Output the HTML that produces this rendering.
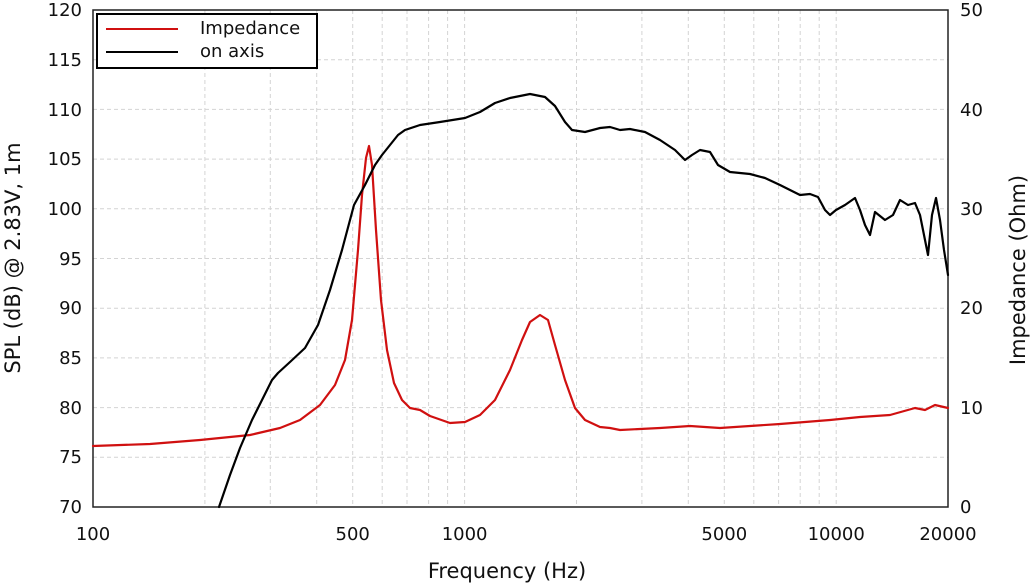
<!DOCTYPE html>
<html><head><style>body{margin:0;background:#fff}svg{display:block}text{font-family:"DejaVu Sans","Liberation Sans",sans-serif;fill:#111}</style></head><body>
<svg width="1032" height="584" viewBox="0 0 1032 584" xmlns="http://www.w3.org/2000/svg">
<g stroke="#d4d4d4" stroke-width="1" stroke-dasharray="4,3">
<line x1="93" x2="948" y1="59.7" y2="59.7"/><line x1="93" x2="948" y1="109.4" y2="109.4"/><line x1="93" x2="948" y1="159.1" y2="159.1"/><line x1="93" x2="948" y1="208.8" y2="208.8"/><line x1="93" x2="948" y1="258.5" y2="258.5"/><line x1="93" x2="948" y1="308.2" y2="308.2"/><line x1="93" x2="948" y1="357.9" y2="357.9"/><line x1="93" x2="948" y1="407.6" y2="407.6"/><line x1="93" x2="948" y1="457.3" y2="457.3"/>
<line x1="204.9" x2="204.9" y1="10" y2="507"/><line x1="270.3" x2="270.3" y1="10" y2="507"/><line x1="316.7" x2="316.7" y1="10" y2="507"/><line x1="352.7" x2="352.7" y1="10" y2="507"/><line x1="382.2" x2="382.2" y1="10" y2="507"/><line x1="407" x2="407" y1="10" y2="507"/><line x1="428.6" x2="428.6" y1="10" y2="507"/><line x1="447.6" x2="447.6" y1="10" y2="507"/><line x1="464.6" x2="464.6" y1="10" y2="507"/><line x1="576.5" x2="576.5" y1="10" y2="507"/><line x1="641.9" x2="641.9" y1="10" y2="507"/><line x1="688.3" x2="688.3" y1="10" y2="507"/><line x1="724.3" x2="724.3" y1="10" y2="507"/><line x1="753.8" x2="753.8" y1="10" y2="507"/><line x1="778.6" x2="778.6" y1="10" y2="507"/><line x1="800.2" x2="800.2" y1="10" y2="507"/><line x1="819.2" x2="819.2" y1="10" y2="507"/><line x1="836.2" x2="836.2" y1="10" y2="507"/>
</g>
<rect x="93" y="10" width="855" height="497" fill="none" stroke="#222" stroke-width="1.5"/>
<polyline fill="none" stroke="#d01010" stroke-width="2.2" stroke-linejoin="round" stroke-linecap="round" points="93,446 150,444 200,440 250,435 280,428 300,420 320,405 335,385 345,360 352,320 358,250 362,195 366,158 369,146 372,165 376,230 381,300 387,350 394,383 402,400 410,408 420,410 430,416 450,423 465,422 480,415 495,400 510,370 522,340 530,322 540,315 548,320 555,345 565,380 575,408 585,420 600,427 610,428 620,430 660,428 690,426 720,428 780,424 830,420 860,417 890,415 915,408 925,410 935,405 948,408"/>
<polyline fill="none" stroke="#000" stroke-width="2.2" stroke-linejoin="round" stroke-linecap="round" points="219,507 230,475 240,448 252,420 262,400 272,380 278,373 290,362 305,348 318,325 330,290 342,250 354,205 365,185 375,165 382,155 390,145 398,135 405,130 420,125 440,122 465,118 480,112 495,103 510,98 530,94 545,97 555,106 565,122 572,130 585,132 600,128 610,127 620,130 630,129 645,132 660,140 675,150 685,160 692,155 700,150 710,152 718,165 730,172 750,174 765,178 780,185 790,190 800,195 810,194 818,197 825,210 830,215 836,210 845,205 855,198 860,210 865,225 870,235 875,212 885,220 893,215 900,200 908,205 915,203 920,215 925,240 928,255 932,215 936,198 940,220 944,250 948,275"/>
<rect x="97" y="14" width="220" height="54" fill="#fff" stroke="#000" stroke-width="2"/>
<line x1="106" x2="178" y1="29" y2="29" stroke="#d01010" stroke-width="2"/>
<line x1="106" x2="178" y1="52" y2="52" stroke="#000" stroke-width="2"/>
<text x="200" y="34" font-size="18">Impedance</text><text x="200" y="57" font-size="18">on axis</text>
<g font-size="18" text-anchor="end">
<text x="82" y="16">120</text><text x="82" y="66">115</text><text x="82" y="116">110</text><text x="82" y="165">105</text><text x="82" y="215">100</text><text x="82" y="265">95</text><text x="82" y="314">90</text><text x="82" y="364">85</text><text x="82" y="414">80</text><text x="82" y="463">75</text><text x="82" y="513">70</text></g>
<g font-size="18">
<text x="960" y="16">50</text><text x="960" y="116">40</text><text x="960" y="215">30</text><text x="960" y="314">20</text><text x="960" y="414">10</text><text x="960" y="513">0</text></g>
<g font-size="18" text-anchor="middle">
<text x="93" y="540">100</text><text x="352.7" y="540">500</text><text x="464.6" y="540">1000</text><text x="724.3" y="540">5000</text><text x="836.2" y="540">10000</text><text x="948" y="540">20000</text></g>
<text x="507" y="578" font-size="21" text-anchor="middle">Frequency (Hz)</text>
<text transform="translate(20,258) rotate(-90)" font-size="21" text-anchor="middle">SPL (dB) @ 2.83V, 1m</text>
<text transform="translate(1025,270) rotate(-90)" font-size="21" text-anchor="middle">Impedance (Ohm)</text>
</svg></body></html>
